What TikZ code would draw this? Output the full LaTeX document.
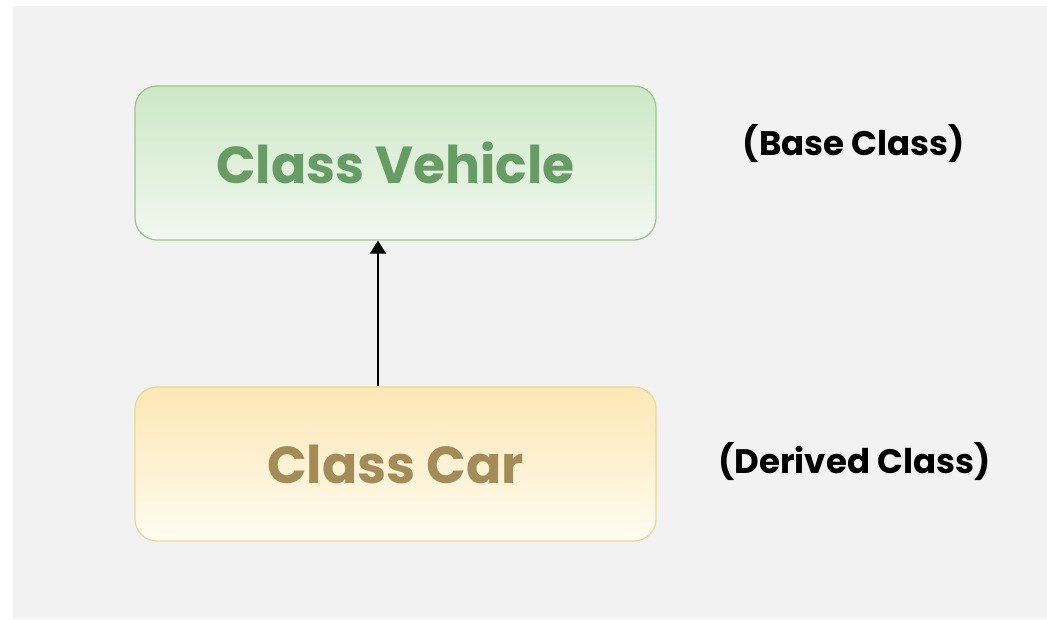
\documentclass[tikz,border=0pt]{standalone}
\usepackage{fontspec}
\setmainfont{Poppins}
\usetikzlibrary{arrows.meta}
\definecolor{pagegray}{HTML}{F2F2F2}
\definecolor{vehtop}{HTML}{CDE7C6}
\definecolor{vehbot}{HTML}{F2F9F0}
\definecolor{vehline}{HTML}{9CC48F}
\definecolor{vehtext}{HTML}{679D65}
\definecolor{cartop}{HTML}{FDE7B4}
\definecolor{carbot}{HTML}{FFFCF1}
\definecolor{carline}{HTML}{EED69A}
\definecolor{cartext}{HTML}{A38C58}
\tikzset{
  classbox/.style={rounded corners=22pt, line width=1.2pt,
    minimum width=521pt, minimum height=154pt, inner sep=0pt,
    font=\fontsize{52}{56}\selectfont\bfseries},
  rolelabel/.style={font=\fontsize{34}{38}\selectfont\bfseries, text=black, inner sep=0pt}
}
\begin{document}
\begin{tikzpicture}[x=1pt,y=-1pt]
  \useasboundingbox (0,0) rectangle (1047,619);
  \fill[white] (0,0) rectangle (1047,619);
  \fill[pagegray] (13,6) rectangle (1047,619);

  \node[classbox, draw=vehline, top color=vehtop, bottom color=vehbot, text=vehtext]
    (veh) at (395.5,163) {Class Vehicle};
  \node[classbox, draw=carline, top color=cartop, bottom color=carbot, text=cartext]
    (car) at (395.5,464) {Class Car};

  \draw[line width=1.8pt, -{Triangle[length=13pt,width=16pt]}]
    ([xshift=-17.5pt]car.north) -- ([xshift=-17.5pt]veh.south);

  \node[rolelabel] (base) at (854,144) {(Base Class)};
  \node[rolelabel] (derived) at (854.5,462) {(Derived Class)};
\end{tikzpicture}
\end{document}
